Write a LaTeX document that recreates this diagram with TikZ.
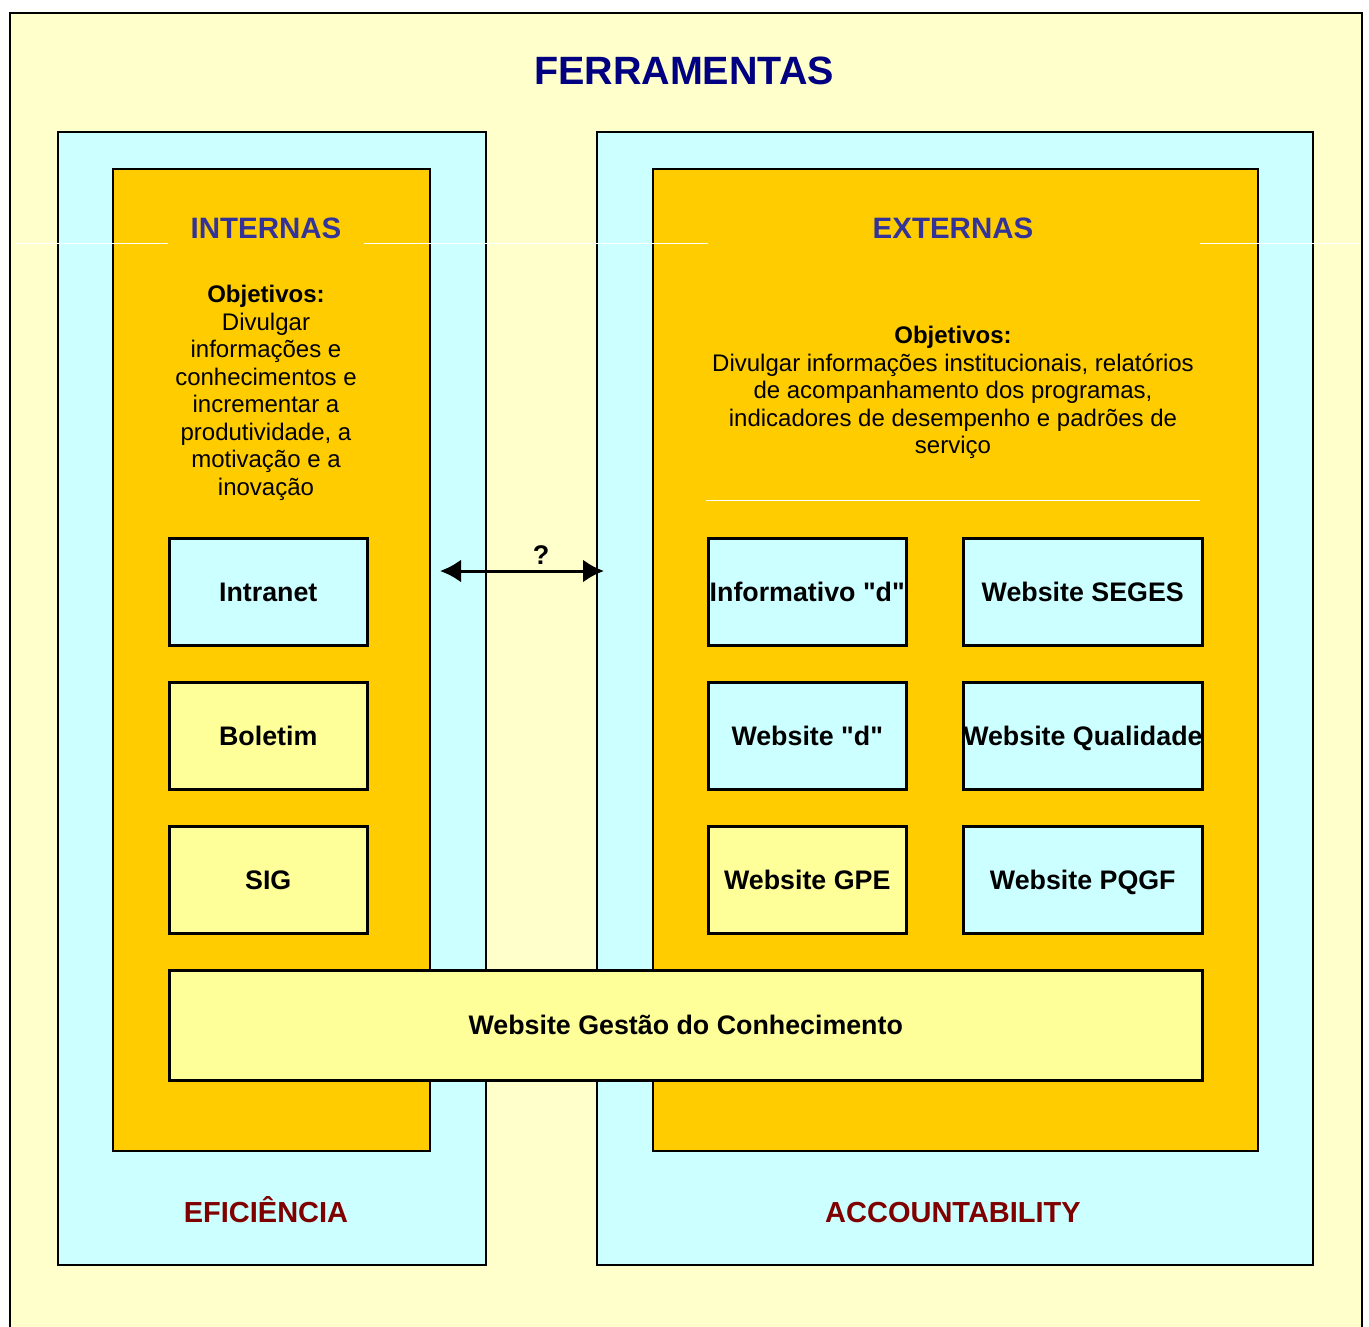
\documentclass[tikz,border=0pt]{standalone}
\usepackage{fontspec}
\setmainfont{Liberation Sans}[Ligatures=TeXOff]
\usetikzlibrary{positioning, arrows.meta}
\definecolor{paper}{RGB}{255,255,204}
\definecolor{skyfill}{RGB}{204,255,255}
\definecolor{goldfill}{RGB}{255,204,0}
\definecolor{lemonfill}{RGB}{255,255,153}
\definecolor{titleblue}{RGB}{0,0,128}
\definecolor{headblue}{RGB}{51,51,153}
\definecolor{footred}{RGB}{128,0,0}

\begin{document}
\begin{tikzpicture}[x=1pt, y=-1pt]
    % Setup the styles
        \tikzset{panel/.style={rectangle, draw=black, line width=2pt,
                               inner sep=0pt, anchor=north west},
                 tool box/.style={rectangle, draw=black, line width=2.5pt,
                                  inner sep=0pt, anchor=north west,
                                  text height=19pt, text depth=0pt,
                                  font=\fontsize{26.8}{30}\selectfont\bfseries},
                 heading/.style={anchor=base, inner sep=0pt,
                                 font=\fontsize{29.5}{32}\selectfont\bfseries,
                                 text=headblue},
                 footing/.style={anchor=base, inner sep=0pt,
                                 font=\fontsize{29}{32}\selectfont\bfseries,
                                 text=footred},
                 aims/.style={align=center, inner sep=0pt,
                              font=\fontsize{24}{27.5}\selectfont},
                 glitch/.style={draw=white, line width=1pt}}
        \useasboundingbox (0,0) rectangle (1369,1327);
        % Draw the frame and the panels
        \draw[fill=paper, line width=2pt] (10,1340) -- (10,13) -- (1362,13) -- (1362,1340);
        \node[panel, fill=skyfill, minimum width=428pt, minimum height=1133pt] at (57,131)  (leftsky) {};
        \node[panel, fill=skyfill, minimum width=716pt, minimum height=1133pt] at (596,131) (rightsky) {};
        \node[panel, fill=goldfill, minimum width=317pt, minimum height=982pt] at (112,168) (leftgold) {};
        \node[panel, fill=goldfill, minimum width=605pt, minimum height=982pt] at (652,168) (rightgold) {};
        \draw[glitch] (15,243) -- (168,243);
        \draw[glitch] (364,243) -- (708,243);
        \draw[glitch] (1200,243) -- (1360,243);
        \draw[glitch] (706,500) -- (1200,500);
        % Draw the texts
        \node[anchor=base, inner sep=0pt, font=\fontsize{39.5}{44}\selectfont\bfseries, text=titleblue] at (684,85) (title) {FERRAMENTAS};
        \node[heading] at (266,238) (internas) {INTERNAS};
        \node[heading] at (953,238) (externas) {EXTERNAS};
        \node[aims, anchor=north] at (266,285) (leftaims) {\textbf{Objetivos:}\\Divulgar\\informações e\\conhecimentos e\\incrementar a\\produtividade, a\\motivação e a\\inovação};
        \node[aims, anchor=north] at (953,326) (rightaims) {\textbf{Objetivos:}\\Divulgar informações institucionais, relatórios\\de acompanhamento dos programas,\\indicadores de desempenho e padrões de\\serviço};
        \node[footing] at (266,1222) (eficiencia) {EFICIÊNCIA};
        \node[footing] at (953,1222) (accountability) {ACCOUNTABILITY};
        % Draw the tools
        \node[tool box, fill=skyfill, minimum width=198pt, minimum height=107pt] at (168,537) (intranet) {Intranet};
        \node[tool box, fill=lemonfill, minimum width=198pt, minimum height=107pt] at (168,681) (boletim) {Boletim};
        \node[tool box, fill=lemonfill, minimum width=198pt, minimum height=107pt] at (168,825) (sig) {SIG};
        \node[tool box, fill=skyfill, minimum width=198pt, minimum height=107pt] at (707,537) (informativo) {Informativo "d"};
        \node[tool box, fill=skyfill, minimum width=239pt, minimum height=107pt] at (962,537) (seges) {Website SEGES};
        \node[tool box, fill=skyfill, minimum width=198pt, minimum height=107pt] at (707,681) (siteD) {Website "d"};
        \node[tool box, fill=skyfill, minimum width=239pt, minimum height=107pt] at (962,681) (qualidade) {Website Qualidade};
        \node[tool box, fill=lemonfill, minimum width=198pt, minimum height=107pt] at (707,825) (gpe) {Website GPE};
        \node[tool box, fill=skyfill, minimum width=239pt, minimum height=107pt] at (962,825) (pqgf) {Website PQGF};
        \node[tool box, fill=lemonfill, minimum width=1033pt, minimum height=110pt] at (168,969) (gestao) {Website Gestão do Conhecimento};
        % Connect the two sides
        \coordinate (askL) at (440,571);
        \coordinate (askR) at (604,571);
        \draw[line width=3pt, {Latex[length=21pt,width=23pt]}-{Latex[length=21pt,width=23pt]}]
        (askL) -- (askR);
        \node[anchor=base, inner sep=0pt, font=\fontsize{27}{30}\selectfont\bfseries] at (541,564) (ask) {?};
\end{tikzpicture}
\end{document}
